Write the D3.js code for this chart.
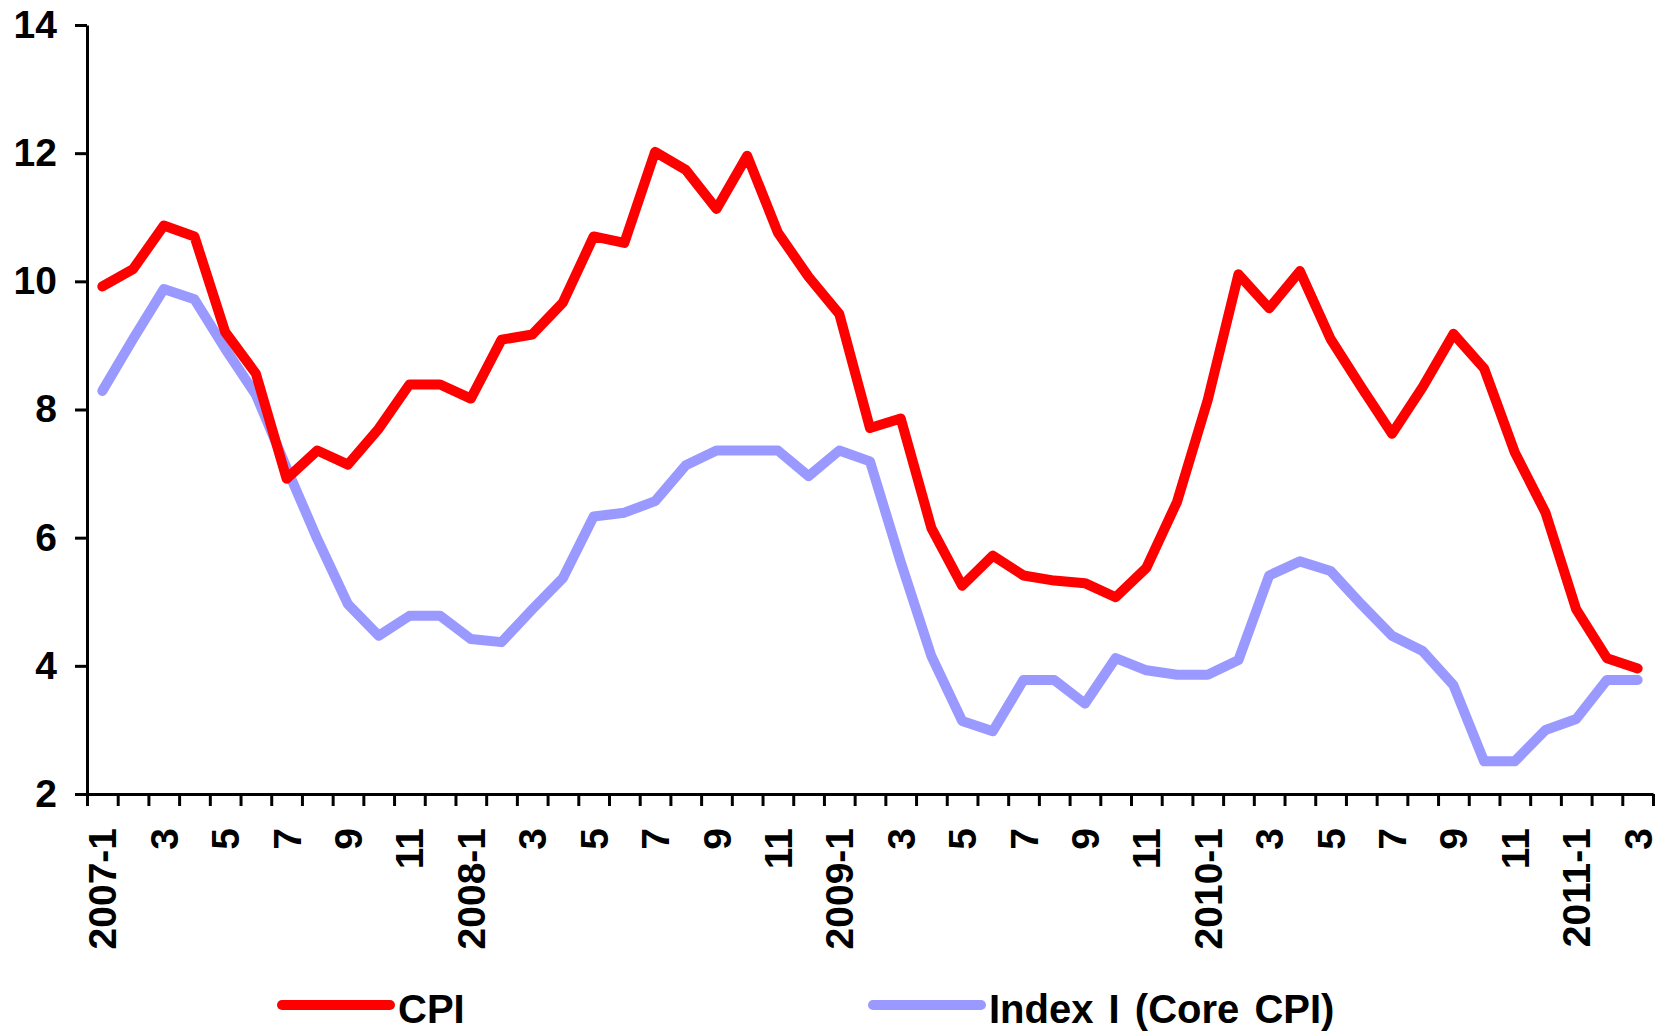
<!DOCTYPE html>
<meta charset="utf-8">
<style>
    body { margin: 0; background: #fff; }
    text { font-family: "Liberation Sans", Arial, sans-serif; font-weight: bold; fill: #000; }
    .axis path, .axis line { stroke: #000; stroke-width: 3px; }
    .series { fill: none; stroke-linejoin: round; stroke-linecap: round; }
</style>
<svg width="1661" height="1033"></svg>
<script src="https://cdn.jsdelivr.net/npm/d3@7/dist/d3.min.js"></script>
<script>

    // months 2007-1 .. 2011-3
    var months = [];
    for (var yr = 2007; yr <= 2011; yr++) {
        for (var m = 1; m <= 12; m++) {
            if (yr == 2011 && m > 3) break;
            months.push(yr + "-" + m);
        }
    }

    var cpi = [9.92, 10.19, 10.87, 10.70, 9.21, 8.56, 6.92, 7.36, 7.14, 7.70, 8.39, 8.39,
        8.17, 9.09, 9.17, 9.67, 10.70, 10.60, 12.02, 11.74, 11.13, 11.96, 10.76, 10.07,
        9.49, 7.71, 7.86, 6.15, 5.25, 5.72, 5.41, 5.33, 5.29, 5.07, 5.53, 6.56,
        8.15, 10.11, 9.58, 10.16, 9.10, 8.35, 7.62, 8.35, 9.18, 8.64, 7.33, 6.39,
        4.88, 4.12, 3.96];

    var core = [8.29, 9.10, 9.88, 9.72, 8.95, 8.23, 7.09, 5.98, 4.96, 4.47, 4.78, 4.78,
        4.42, 4.37, 4.88, 5.37, 6.33, 6.39, 6.57, 7.13, 7.36, 7.36, 7.36, 6.96,
        7.36, 7.19, 5.62, 4.15, 3.14, 2.98, 3.78, 3.78, 3.41, 4.12, 3.93, 3.86,
        3.86, 4.09, 5.41, 5.63, 5.48, 4.96, 4.47, 4.23, 3.70, 2.51, 2.51, 3.00,
        3.17, 3.78, 3.78];

    var yTicks = [2, 4, 6, 8, 10, 12, 14];

    var seriesNames = ["CPI", "Index I (Core CPI)"];
    var seriesColors = ["#ff0000", "#9999ff"];

    var svg = d3.select("svg");

    var plotLeft = 87, plotRight = 1653, plotTop = 25, plotBottom = 794;

    var x = d3.scaleLinear()
        .domain([-0.5, months.length - 0.5])
        .range([plotLeft, plotRight]);

    var y = d3.scaleLinear()
        .domain([2, 14])
        .range([plotBottom, plotTop]);

    // y axis
    svg.append("g")
        .attr("class", "axis")
        .attr("transform", "translate(" + plotLeft + ",0)")
        .call(d3.axisLeft(y).tickValues(yTicks).tickSize(12).tickSizeOuter(0).tickPadding(18))
        .selectAll("text")
        .style("font-size", "39px");

    // x axis: ticks between categories
    svg.append("g")
        .attr("class", "axis")
        .attr("transform", "translate(0," + plotBottom + ")")
        .call(d3.axisBottom(x)
            .tickValues(d3.range(months.length + 1).map(function (i) { return i - 0.5; }))
            .tickSize(12).tickSizeOuter(0).tickFormat(""));

    // x labels every second month
    var labelIdx = d3.range(0, months.length, 2);
    svg.append("g")
        .selectAll("text")
        .data(labelIdx)
        .enter().append("text")
        .attr("transform", function (i) {
            return "translate(" + x(i) + "," + (plotBottom + 34) + ") rotate(-90)";
        })
        .attr("text-anchor", "end")
        .attr("dy", "0.36em")
        .style("font-size", "39px")
        .text(function (i) {
            var p = months[i].split("-");
            return p[1] == "1" ? months[i] : p[1];
        });

    var line = d3.line()
        .x(function (d, i) { return x(i); })
        .y(function (d) { return y(d); });

    svg.append("path")
        .attr("class", "series")
        .attr("d", line(core))
        .attr("stroke", seriesColors[1])
        .attr("stroke-width", 10);

    svg.append("path")
        .attr("class", "series")
        .attr("d", line(cpi))
        .attr("stroke", seriesColors[0])
        .attr("stroke-width", 10);

    // legend
    var legendX = [282, 873];
    var legend = svg.append("g")
        .selectAll("g")
        .data(seriesNames)
        .enter().append("g")
        .attr("transform", function (d, i) { return "translate(" + legendX[i] + ",1005)"; });

    legend.append("line")
        .attr("x1", 0).attr("x2", 108)
        .attr("stroke", function (d, i) { return seriesColors[i]; })
        .attr("stroke-width", 10)
        .attr("stroke-linecap", "round");

    legend.append("text")
        .attr("x", 116)
        .attr("y", 18)
        .style("font-size", "40px")
        .style("word-spacing", "4px")
        .text(function (d) { return d; });

</script>
